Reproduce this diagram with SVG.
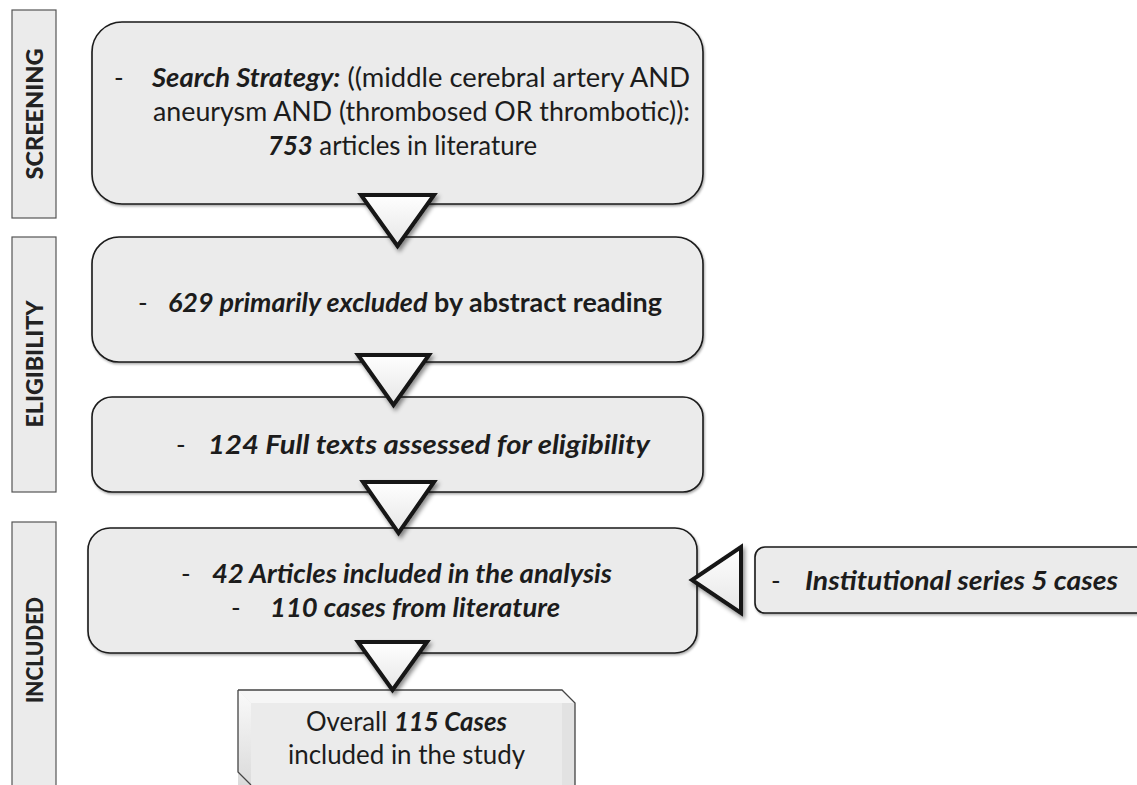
<svg xmlns="http://www.w3.org/2000/svg" width="1137" height="785" viewBox="0 0 1137 785">
<defs>
<style>
.lbl{fill:#ebebeb;stroke:#555;stroke-width:1.2}
.box{fill:#ebebeb;stroke:#1a1a1a;stroke-width:1.6;filter:url(#bsh)}
.lt{font-family:Lato,"Liberation Sans",sans-serif;font-weight:900;font-size:23px;fill:#222;text-anchor:middle}
.t{font-family:Lato,"Liberation Sans",sans-serif;font-size:26px;fill:#1c1c1c}
.bi{font-weight:bold;font-style:italic}
.b{font-weight:bold}
.tri{fill:url(#tg);stroke:#141414;stroke-width:4;stroke-linejoin:miter;filter:url(#tsh)}
</style>
<linearGradient id="tg" x1="0" y1="0" x2="0" y2="1">
<stop offset="0" stop-color="#ffffff"/>
<stop offset="1" stop-color="#e6e6e6"/>
</linearGradient>
<linearGradient id="lf" x1="0" y1="0" x2="0" y2="1">
<stop offset="0" stop-color="#fafafa"/>
<stop offset="1" stop-color="#d6d6d6"/>
</linearGradient>
<filter id="tsh" x="-30%" y="-30%" width="160%" height="160%">
<feDropShadow dx="2" dy="3" stdDeviation="2" flood-color="#000" flood-opacity="0.45"/>
</filter>
<filter id="bsh" x="-5%" y="-10%" width="110%" height="120%">
<feDropShadow dx="1" dy="1.5" stdDeviation="1" flood-color="#000" flood-opacity="0.35"/>
</filter>
</defs>

<g id="label-screening">
<rect class="lbl" x="12" y="10" width="44" height="208"/>
<text class="lt" transform="translate(43,114) rotate(-90)" textLength="131" lengthAdjust="spacingAndGlyphs">SCREENING</text>
</g>
<g id="label-eligibility">
<rect class="lbl" x="12" y="237" width="44" height="255"/>
<text class="lt" transform="translate(43,364) rotate(-90)" textLength="127" lengthAdjust="spacingAndGlyphs">ELIGIBILITY</text>
</g>
<g id="label-included">
<rect class="lbl" x="12" y="522" width="44" height="270"/>
<text class="lt" transform="translate(43,650) rotate(-90)" textLength="106" lengthAdjust="spacingAndGlyphs">INCLUDED</text>
</g>

<g id="box-search">
<rect class="box" x="92" y="22" width="611" height="182" rx="30"/>
<text class="t" x="114" y="87">-</text>
<text class="t" x="152" y="87" textLength="538" lengthAdjust="spacingAndGlyphs"><tspan class="bi">Search Strategy:</tspan> ((middle cerebral artery AND</text>
<text class="t" x="153" y="121" textLength="537" lengthAdjust="spacingAndGlyphs">aneurysm AND (thrombosed OR thrombotic)):</text>
<text class="t" x="268" y="155" textLength="269" lengthAdjust="spacingAndGlyphs"><tspan class="bi">753</tspan> articles in literature</text>
</g>

<g id="box-excluded">
<rect class="box" x="92" y="237" width="611" height="125" rx="27"/>
<text class="t" x="138" y="312">-</text>
<text class="t" x="168" y="312" textLength="494" lengthAdjust="spacingAndGlyphs"><tspan class="bi">629 primarily excluded</tspan><tspan class="b"> by abstract reading</tspan></text>
</g>

<g id="box-fulltext">
<rect class="box" x="92" y="397" width="611" height="95" rx="20"/>
<text class="t" x="176" y="454">-</text>
<text class="t bi" x="208" y="454" textLength="442" lengthAdjust="spacingAndGlyphs">124 Full texts assessed for eligibility</text>
</g>

<g id="box-included">
<rect class="box" x="88" y="528" width="609" height="125" rx="22"/>
<text class="t" x="181" y="583">-</text>
<text class="t bi" x="212" y="583" textLength="400" lengthAdjust="spacingAndGlyphs">42 Articles included in the analysis</text>
<text class="t" x="231" y="617">-</text>
<text class="t bi" x="270" y="617" textLength="290" lengthAdjust="spacingAndGlyphs">110 cases from literature</text>
</g>

<g id="box-institutional">
<rect class="box" x="755" y="547" width="400" height="66" rx="10"/>
<text class="t" x="771" y="590">-</text>
<text class="t bi" x="805" y="590" textLength="313" lengthAdjust="spacingAndGlyphs">Institutional series 5 cases</text>
</g>

<g id="box-overall">
<path d="M238,690 H562 L575,703 V800 H238 Z" fill="#ebebeb"/>
<path d="M238,690 H562 L575,703 L562,703 H251 Z" fill="#f6f6f6"/>
<path d="M238,690 L251,703 V800 H238 Z" fill="url(#lf)"/>
<path d="M575,703 L562,703 V800 H575 Z" fill="#e2e2e2"/>
<path d="M238,690 H562 L575,703 V800 M238,690 V772 L251,785" fill="none" stroke="#444" stroke-width="1.3"/>
<text class="t" x="306" y="731" textLength="201" lengthAdjust="spacingAndGlyphs">Overall <tspan class="bi">115 Cases</tspan></text>
<text class="t" x="288" y="764" textLength="237" lengthAdjust="spacingAndGlyphs">included in the study</text>
</g>

<g id="connectors">
<path class="tri" d="M361,195 L434,195 L397.5,246 Z"/>
<path class="tri" d="M358,355 L429,355 L393.5,405 Z"/>
<path class="tri" d="M363,482 L434,482 L398.5,533 Z"/>
<path class="tri" d="M358,642 L427,642 L392.5,690 Z"/>
<path class="tri" d="M741,547 L741,613 L692,580 Z"/>
</g>
</svg>
